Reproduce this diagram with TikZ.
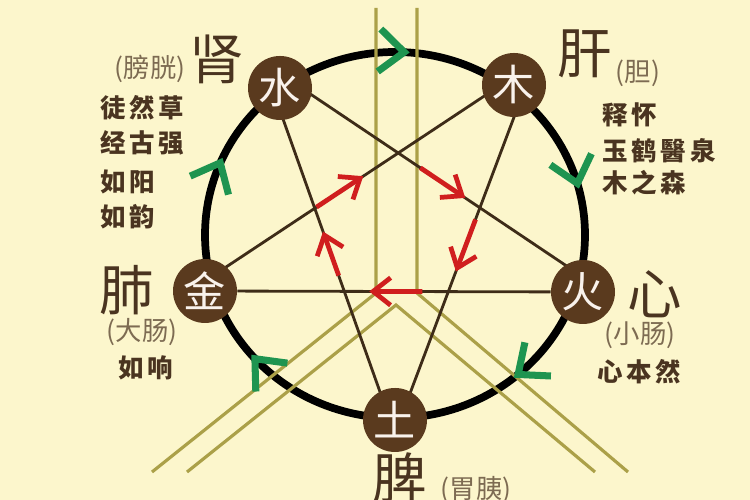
\documentclass[tikz,border=0pt]{standalone}
\usepackage{fontspec}
\setmainfont{Noto Sans CJK SC}
\newfontfamily\versefont[LetterSpace=15]{Noto Sans CJK SC}
\usepackage{xcolor}
\usepackage{tikz}
\usetikzlibrary{arrows.meta, positioning, calc, backgrounds, decorations.markings}
\definecolor{paper}{HTML}{FCF6CC}
\definecolor{nodebrown}{HTML}{5A3A1E}
\definecolor{inkbrown}{HTML}{4A3420}
\definecolor{softbrown}{HTML}{7D6B52}
\definecolor{starbrown}{HTML}{3E2C18}
\definecolor{gold}{HTML}{ABA048}
\definecolor{arrred}{HTML}{D01E1E}
\definecolor{leaf}{HTML}{1E9450}

\begin{document}
\begin{tikzpicture}[
  element/.style={circle, fill=nodebrown, text=white!90!brown, minimum size=1.28cm, inner sep=0pt, font=\fontsize{24}{24}\selectfont},
  organ/.style={text=inkbrown, inner sep=0pt, font=\fontsize{31}{31}\selectfont},
  fu/.style={text=softbrown, inner sep=0pt, font=\fontsize{15}{15}\selectfont},
  verse/.style={text=inkbrown, inner sep=0pt, anchor=west, font=\versefont\bfseries\fontsize{14.5}{14.5}\selectfont},
  starline/.style={starbrown, line width=1.6pt},
  goldline/.style={gold, line width=1.8pt},
  ring/.style={black, line width=4.4pt},
  redarr/.style={arrred, line width=2.7pt, -{Straight Barb[length=0.35cm,width=0.55cm]}},
  chevtip/.tip={Straight Barb[length=0.5cm,width=0.85cm,line width=4pt,color=leaf]},
]
\useasboundingbox (0,0) rectangle (15,10);

% five elements on the ring
\node[element] (shui) at (5.6,8.24) {水};
\node[element] (mu) at (10.28,8.3) {木};
\node[element] (huo) at (11.66,4.16) {火};
\node[element] (tu) at (7.9,1.6) {土};
\node[element] (jin) at (4.1,4.18) {金};

% ends of the star lines
\coordinate (s1a) at ($(shui)+(0.04,0.26)$);
\coordinate (s1b) at ($(huo)+(0,0.3)$);
\coordinate (s2a) at ($(shui)+(-0.16,0)$);
\coordinate (s2b) at ($(tu)+(-0.1,0)$);
\coordinate (s3a) at ($(jin)+(0,0.2)$);
\coordinate (s3b) at ($(mu)+(-0.08,0.12)$);
\coordinate (s4a) at ($(mu)+(0.22,-0.06)$);
\coordinate (s4b) at ($(tu)+(0.1,0)$);

% inner pentagon
\coordinate (pA) at (intersection of s1a--s1b and s3a--s3b);
\coordinate (pB) at (intersection of s2a--s2b and s3a--s3b);
\coordinate (pC) at (intersection of s1a--s1b and s4a--s4b);
\coordinate (pD) at (intersection of s2a--s2b and jin.center--huo.center);
\coordinate (pE) at (intersection of s4a--s4b and jin.center--huo.center);

\begin{scope}[on background layer]
  \fill[paper] (0,0) rectangle (15,10);
  \draw[ring] (7.9,5.3) ellipse [x radius=3.8cm, y radius=3.66cm];
  % golden frame
  \draw[goldline] (7.52,9.84) -- (7.52,4.14) -- (3.04,0.56);
  \draw[goldline] (8.34,9.84) -- (8.34,4.14) -- (12.56,0.56);
  \draw[goldline] (3.74,0.56) -- (7.92,3.9) -- (11.9,0.56);
  % star
  \draw[starline] (s1a) -- (s1b);
  \draw[starline] (s2a) -- (s2b);
  \draw[starline] (s3a) -- (s3b);
  \draw[starline] (s4a) -- (s4b);
  \draw[starline] (jin) -- (huo);
\end{scope}

% red arrows round the pentagon
\draw[redarr] ($(pB)!0.02!(pA)$) -- ($(pB)!0.58!(pA)$);
\draw[redarr] ($(pA)!0.27!(pC)$) -- ($(pA)!0.82!(pC)$);
\draw[redarr] ($(pC)!0.14!(pE)$) -- ($(pC)!0.76!(pE)$);
\draw[redarr] ($(pE)!0.25!(pD)$) -- ($(pE)!0.76!(pD)$);
\draw[redarr] ($(pD)!0.19!(pB)$) -- ($(pD)!0.72!(pB)$);

% green chevrons on the ring
\path[decoration={markings,
    mark=at position 0.0125 with {\arrow{chevtip}},
    mark=at position 0.21 with {\arrow{chevtip}},
    mark=at position 0.391 with {\arrow{chevtip}},
    mark=at position 0.638 with {\arrow{chevtip}},
    mark=at position 0.818 with {\arrow{chevtip}}},
  decorate] (7.9,8.96) arc [start angle=90, end angle=-270, x radius=3.8cm, y radius=3.66cm];

% kidney
\node[organ] (shen) at (4.34,8.82) {肾};
\node[fu] (pangguang) at (3.0,8.62) {(膀胱)};
\node[verse] (shenv1) at (2.0,7.84) {徒然草};
\node[verse] (shenv2) at (2.0,7.14) {经古强};
\node[verse] (shenv3) at (2.0,6.36) {如阳};
\node[verse] (shenv4) at (2.0,5.66) {如韵};

% liver
\node[organ] (gan) at (11.7,8.92) {肝};
\node[fu] (dan) at (12.76,8.54) {(胆)};
\node[verse] (ganv1) at (12.04,7.7) {释怀};
\node[verse] (ganv2) at (12.04,6.98) {玉鹤醫泉};
\node[verse] (ganv3) at (12.04,6.34) {木之森};

% lung
\node[organ] (fei) at (2.54,4.2) {肺};
\node[fu] (dachang) at (2.84,3.36) {(大肠)};
\node[verse] (feiv1) at (2.36,2.64) {如响};

% heart
\node[organ] (xin) at (13.1,4.12) {心};
\node[fu] (xiaochang) at (12.8,3.3) {(小肠)};
\node[verse] (xinv1) at (11.94,2.56) {心本然};

% spleen
\node[organ] (pi) at (8.0,0.44) {脾};
\node[fu] (weiyi) at (9.52,0.2) {(胃胰)};
\end{tikzpicture}
\end{document}
